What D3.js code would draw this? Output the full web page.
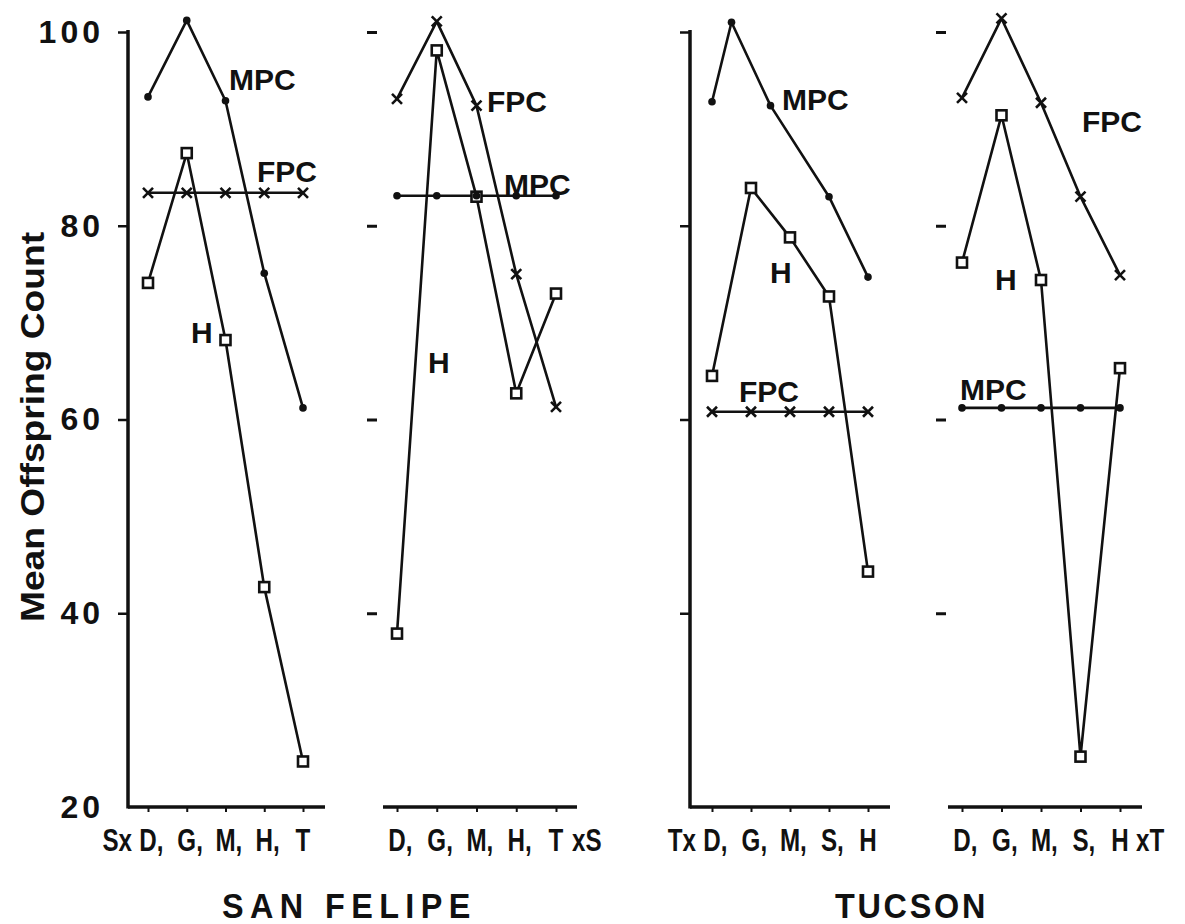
<!DOCTYPE html>
<html>
<head>
<meta charset="utf-8">
<script src="https://cdn.jsdelivr.net/npm/d3@7"></script>
<style>
  body { margin: 0; background: #fff; }
  text { font-family: "Liberation Sans", Arial, sans-serif; font-weight: bold; fill: #111; }
</style>
</head>
<body>
<svg id="chart" width="1185" height="924"></svg>
<script>
// ---- data ----
const yTickValues = [20, 40, 60, 80, 100];
const sanFelipeCats = ["D", "G", "M", "H", "T"];
const tucsonCats = ["D", "G", "M", "S", "H"];

// San Felipe, S x line crosses
const sfSxMPC = [93.3, 101.2, 92.9, 75.1, 61.2];
const sfSxFPC = [83.4, 83.4, 83.4, 83.4, 83.4];
const sfSxH   = [74.1, 87.5, 68.2, 42.7, 24.7];
// San Felipe, line x S crosses
const sfXsFPC = [93.1, 101.1, 92.4, 75.0, 61.3];
const sfXsMPC = [83.1, 83.1, 83.1, 83.1, 83.1];
const sfXsH   = [37.9, 98.1, 83.0, 62.7, 73.0];
// Tucson, T x line crosses
const tuTxMPC   = [92.8, 101.0, 92.4, 83.0, 74.7];
const tuTxMPCAt = [0, 0.5, 1.5, 3, 4];
const tuTxFPC   = [60.8, 60.8, 60.8, 60.8, 60.8];
const tuTxH     = [64.5, 83.9, 78.8, 72.7, 44.3];
// Tucson, line x T crosses
const tuXtFPC = [93.2, 101.4, 92.7, 83.0, 74.9];
const tuXtMPC = [61.2, 61.2, 61.2, 61.2, 61.2];
const tuXtH   = [76.2, 91.4, 74.4, 25.2, 65.3];

const idx = [0, 1, 2, 3, 4];

// ---- layout ----
const svg = d3.select("#chart");
svg.append("rect").attr("width", 1185).attr("height", 924).attr("fill", "#fff");

const y = d3.scaleLinear().domain([20, 100]).range([807, 32]);
const INK = "#111";
const labY = 851;      // baseline of the category labels
const NARROW = 0.78;   // horizontal squeeze of the lettering under the axes

const panels = [
  { cats: sanFelipeCats, x0: 148, x1: 303, axisX: 128, axisLine: true, base: [128, 325],
    prefix: "Sx", suffix: null,
    series: [
      { kind: "dot", vals: sfSxMPC, at: idx },
      { kind: "cross", vals: sfSxFPC, at: idx },
      { kind: "square", vals: sfSxH, at: idx }
    ],
    labels: [["MPC", 229, 90], ["FPC", 257, 182], ["H", 191, 343]] },
  { cats: sanFelipeCats, x0: 397, x1: 556, axisX: 377, axisLine: false, base: [383, 577],
    prefix: null, suffix: "xS",
    series: [
      { kind: "cross", vals: sfXsFPC, at: idx },
      { kind: "square", vals: sfXsH, at: idx },
      { kind: "dot", vals: sfXsMPC, at: idx }
    ],
    labels: [["FPC", 487, 112], ["MPC", 504, 195], ["H", 428, 373]] },
  { cats: tucsonCats, x0: 712, x1: 868, axisX: 690, axisLine: true, base: [690, 890],
    prefix: "Tx", suffix: null,
    series: [
      { kind: "dot", vals: tuTxMPC, at: tuTxMPCAt },
      { kind: "cross", vals: tuTxFPC, at: idx },
      { kind: "square", vals: tuTxH, at: idx }
    ],
    labels: [["MPC", 782, 110], ["H", 770, 283], ["FPC", 739, 402]] },
  { cats: tucsonCats, x0: 962, x1: 1120, axisX: 946, axisLine: false, base: [948, 1142],
    prefix: null, suffix: "xT",
    series: [
      { kind: "cross", vals: tuXtFPC, at: idx },
      { kind: "square", vals: tuXtH, at: idx },
      { kind: "dot", vals: tuXtMPC, at: idx }
    ],
    labels: [["FPC", 1082, 132], ["H", 995, 290], ["MPC", 960, 400]] }
];

// narrow lettering helper: text squeezed horizontally around (cx, labY)
function narrowText(g, cx, anchor) {
  return g.append("text")
    .attr("transform", `translate(${cx},${labY}) scale(${NARROW},1)`)
    .attr("text-anchor", anchor).attr("font-size", 31);
}

panels.forEach((p, pi) => {
  const g = svg.append("g");
  const x = d3.scaleLinear().domain([0, 4]).range([p.x0, p.x1]);

  // vertical axis (full line on the first panel of each site, tick dashes otherwise)
  if (p.axisLine) {
    const ax = d3.axisLeft(y).tickValues(yTickValues).tickSize(10)
      .tickFormat(pi === 0 ? d3.format("d") : "");
    const ag = g.append("g").attr("transform", `translate(${p.axisX},0)`).call(ax);
    ag.select(".domain").attr("d", `M0,${y(100) - 2}V${y(20) + 1.5}`)
      .attr("stroke", INK).attr("stroke-width", 3.5).attr("fill", "none");
    ag.selectAll(".tick line").attr("stroke", INK).attr("stroke-width", 2.5);
    ag.selectAll(".tick text").attr("x", -24).attr("font-size", 32)
      .attr("letter-spacing", 4).style("fill", INK);
    if (pi !== 0) ag.selectAll(".tick").filter(d => d === 20).remove();
    else ag.selectAll(".tick").filter(d => d === 20).select("line").remove();
  } else {
    const ax = d3.axisLeft(y).tickValues(yTickValues.filter(v => v > 20)).tickSize(10).tickFormat("");
    const ag = g.append("g").attr("transform", `translate(${p.axisX},0)`).call(ax);
    ag.select(".domain").remove();
    ag.selectAll(".tick line").attr("stroke", INK).attr("stroke-width", 3);
  }

  // category axis
  const bx = d3.axisBottom(x).tickValues(idx).tickSize(5).tickFormat("");
  const bg = g.append("g").attr("transform", `translate(0,${y(20)})`).call(bx);
  bg.select(".domain").attr("d", `M${p.base[0]},0H${p.base[1]}`)
    .attr("stroke", INK).attr("stroke-width", 3.5);
  bg.selectAll(".tick line").attr("stroke", INK).attr("stroke-width", 2);

  // category lettering: letter centred on its tick, comma trailing
  p.cats.forEach((c, i) => {
    const t = narrowText(g, x(i), "start");
    const letter = t.append("tspan").text(c);
    if (i < 4) t.append("tspan").text(",");
    const w = letter.node().getComputedTextLength();
    t.attr("x", -w / 2);
  });
  if (p.prefix) narrowText(g, x(0) - 16, "end").text(p.prefix);
  if (p.suffix) narrowText(g, x(4) + 16, "start").text(p.suffix);

  // series lines
  const line = d3.line().x(d => x(d[0])).y(d => y(d[1]));
  p.series.forEach(s => {
    const pts = s.vals.map((v, i) => [s.at[i], v]);
    g.append("path").attr("d", line(pts)).attr("fill", "none")
      .attr("stroke", INK).attr("stroke-width", 2.6).attr("stroke-linejoin", "round");
  });
  // markers: squares, then dots, then crosses
  ["square", "dot", "cross"].forEach(kind => {
    p.series.filter(s => s.kind === kind).forEach(s => {
      const pts = s.vals.map((v, i) => [x(s.at[i]), y(v)]);
      if (kind === "square") {
        g.selectAll(null).data(pts).enter().append("rect")
          .attr("x", d => d[0] - 5).attr("y", d => d[1] - 5).attr("width", 10).attr("height", 10)
          .attr("fill", "#fff").attr("stroke", INK).attr("stroke-width", 2.6);
      } else if (kind === "dot") {
        g.selectAll(null).data(pts).enter().append("circle")
          .attr("cx", d => d[0]).attr("cy", d => d[1]).attr("r", 3.8).attr("fill", INK);
      } else {
        g.selectAll(null).data(pts).enter().append("path")
          .attr("d", d => `M${d[0] - 5},${d[1] - 5}L${d[0] + 5},${d[1] + 5}M${d[0] + 5},${d[1] - 5}L${d[0] - 5},${d[1] + 5}`)
          .attr("stroke", INK).attr("stroke-width", 2.6);
      }
    });
  });

  // series names
  p.labels.forEach(([t, lx, ly]) => {
    g.append("text").attr("x", lx).attr("y", ly).attr("font-size", 30).text(t);
  });
});

// y axis title
svg.append("text").attr("transform", "translate(44,427) rotate(-90)")
  .attr("text-anchor", "middle").attr("font-size", 34)
  .attr("textLength", 390).attr("lengthAdjust", "spacingAndGlyphs")
  .text("Mean Offspring Count");

// site names
svg.append("text").attr("transform", "translate(222,918) scale(0.9,1)").attr("font-size", 36)
  .attr("textLength", 276).attr("lengthAdjust", "spacing").text("SAN FELIPE");
svg.append("text").attr("transform", "translate(835,918) scale(0.9,1)").attr("font-size", 36)
  .attr("textLength", 167).attr("lengthAdjust", "spacing").text("TUCSON");
</script>
</body>
</html>
